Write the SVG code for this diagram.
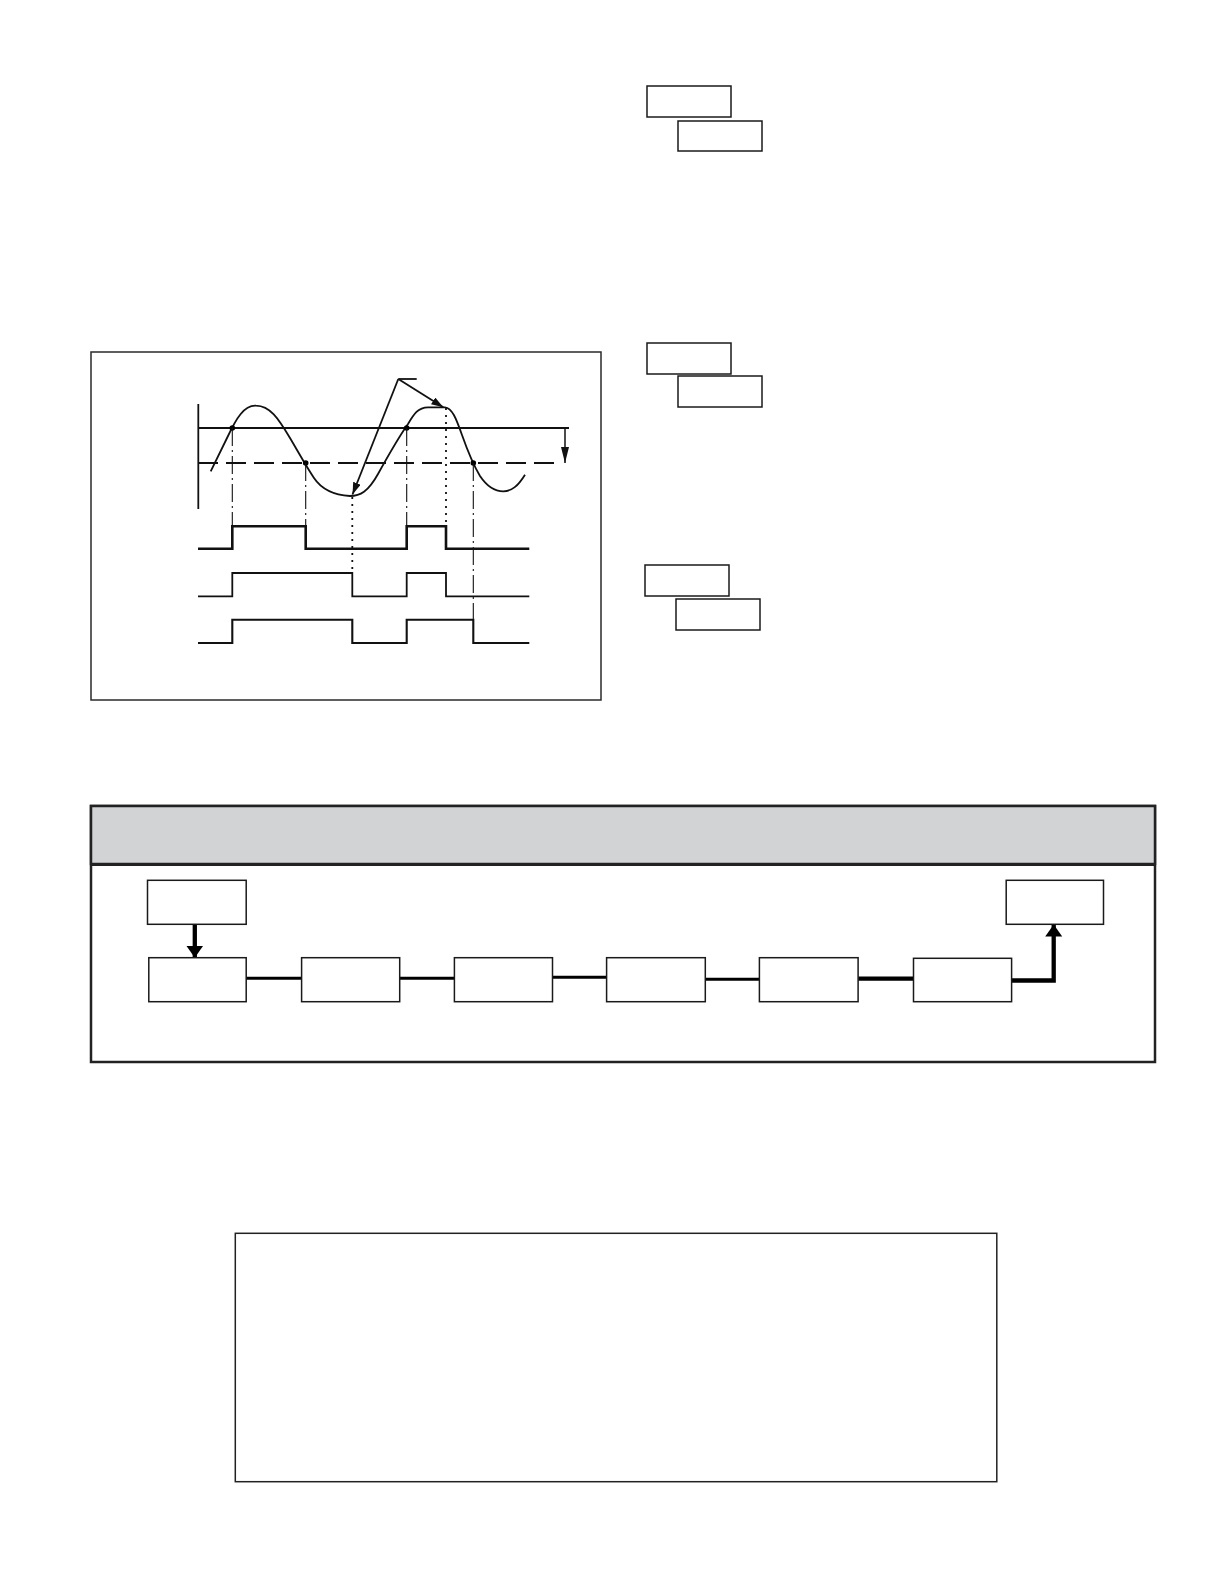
<svg xmlns="http://www.w3.org/2000/svg" width="1224" height="1584" viewBox="0 0 1224 1584">
<style>
.box{fill:#fff;stroke:#1a1a1a;stroke-width:1.5}
.frame{fill:none;stroke:#2a2a2a;stroke-width:1.5}
.ln{fill:none;stroke:#111;stroke-width:1.8}
.wave{fill:none;stroke:#111;stroke-width:1.8}
.dash{fill:none;stroke:#111;stroke-width:1.1;stroke-dasharray:18 4 2 4}
.dot{fill:none;stroke:#111;stroke-width:1.8;stroke-dasharray:2 5}
.conn{fill:none;stroke:#000;stroke-width:3}
.thick{fill:none;stroke:#000;stroke-width:4.3}
</style>
<defs>
<marker id="ah" markerUnits="userSpaceOnUse" markerWidth="14" markerHeight="10" refX="12" refY="4" orient="auto">
<path d="M0,0 L12,4 L0,8 Z" fill="#111"/>
</marker>
<marker id="ahl" markerUnits="userSpaceOnUse" markerWidth="18" markerHeight="10" refX="16" refY="4" orient="auto">
<path d="M0,0 L16,4 L0,8 Z" fill="#111"/>
</marker>
<marker id="ahb" markerUnits="userSpaceOnUse" markerWidth="14" markerHeight="18" refX="12" refY="8.5" orient="auto">
<path d="M0,0 L12,8.5 L0,17 Z" fill="#000"/>
</marker>
</defs>
<rect width="1224" height="1584" fill="#fff"/>

<g id="pairA1"><rect class="box" x="647" y="86" width="84" height="31"/></g>
<g id="pairA2"><rect class="box" x="678" y="121" width="84" height="30"/></g>
<g id="pairB1"><rect class="box" x="647" y="343" width="84" height="31"/></g>
<g id="pairB2"><rect class="box" x="678" y="376" width="84" height="31"/></g>
<g id="pairC1"><rect class="box" x="645" y="565" width="84" height="31"/></g>
<g id="pairC2"><rect class="box" x="676" y="599" width="84" height="31"/></g>

<g id="timing">
<rect class="frame" x="91" y="352" width="510" height="348"/>
<line class="ln" x1="198.3" y1="404" x2="198.3" y2="509"/>
<line x1="198" y1="428" x2="569" y2="428" stroke="#111" stroke-width="2.2"/>
<line x1="198" y1="463" x2="560" y2="463" stroke="#111" stroke-width="2.2" stroke-dasharray="20 8"/>
<line x1="565" y1="428" x2="565" y2="463" stroke="#111" stroke-width="1.5" marker-end="url(#ahl)"/>
<path class="wave" d="M210.7 471.3 L228 436 C236 419 244 405 256 405.7 C270 406 278 418 290 438 C300 455 306 466 314 478 C322 490 334 495 350 496 C360 496 368 492 378 474 C388 456 398 438 408 424 C414 414 418 407.5 428 407.3 L445 407.3 C452 408 456 418 462 435 C468 452 474 466 480 476 C488 488 496 491.3 503.3 491.3 C512 491 518 486 525 474.7"/>
<circle cx="232.3" cy="428" r="2.8" fill="#000"/>
<circle cx="305.7" cy="463" r="2.8" fill="#000"/>
<circle cx="406.7" cy="428" r="2.8" fill="#000"/>
<circle cx="473.3" cy="463" r="2.8" fill="#000"/>
<line class="ln" x1="416.7" y1="379" x2="398.3" y2="379"/>
<line class="ln" x1="398.3" y1="379" x2="352.5" y2="494.5" marker-end="url(#ah)"/>
<line class="ln" x1="398.3" y1="379" x2="443.3" y2="407.3" marker-end="url(#ah)"/>
<line class="dash" x1="232.3" y1="428" x2="232.3" y2="526"/>
<line class="dash" x1="305.7" y1="463" x2="305.7" y2="548"/>
<line class="dot" x1="352.3" y1="497" x2="352.3" y2="573"/>
<line class="dash" x1="406.7" y1="428" x2="406.7" y2="526"/>
<line class="dot" x1="446" y1="408" x2="446" y2="526"/>
<line class="dash" x1="473.3" y1="463" x2="473.3" y2="620"/>
<polyline fill="none" stroke="#111" stroke-width="2.6" points="198,548.7 232.3,548.7 232.3,526.3 305.7,526.3 305.7,548.7 406.7,548.7 406.7,526.3 446,526.3 446,548.7 529.3,548.7"/>
<polyline fill="none" stroke="#111" stroke-width="1.8" points="198,596.3 232.3,596.3 232.3,573 352.3,573 352.3,596.3 406.7,596.3 406.7,573 446,573 446,596.3 529.3,596.3"/>
<polyline fill="none" stroke="#111" stroke-width="2.1" points="198,643 232.3,643 232.3,619.7 352.3,619.7 352.3,643 406.7,643 406.7,619.7 473.3,619.7 473.3,643 529.3,643"/>
</g>

<g id="panel">
<rect x="91" y="806" width="1064" height="256" fill="#fff" stroke="#222" stroke-width="2.5"/>
<rect x="91" y="806" width="1064" height="58" fill="#d2d3d5" stroke="#222" stroke-width="2.5"/>
<line x1="91" y1="864.5" x2="1155" y2="864.5" stroke="#222" stroke-width="3"/>
</g>
<g id="connectors">
<line class="thick" x1="194.8" y1="924" x2="194.8" y2="957.7" marker-end="url(#ahb)"/>
<line class="conn" x1="246" y1="978.3" x2="302" y2="978.3"/>
<line class="conn" x1="399.7" y1="978.3" x2="454.4" y2="978.3"/>
<line class="conn" x1="552.5" y1="977.3" x2="606.6" y2="977.3"/>
<line class="conn" x1="705.3" y1="979.3" x2="759.4" y2="979.3"/>
<line class="thick" x1="858.1" y1="978.7" x2="913.5" y2="978.7"/>
<polyline class="thick" points="1011.6,980.5 1053.7,980.5 1053.7,924.5" marker-end="url(#ahb)"/>
</g>
<g id="start"><rect class="box" x="147.5" y="880.3" width="98.7" height="44"/></g>
<g id="end"><rect class="box" x="1006.2" y="880.3" width="97.3" height="44"/></g>
<g id="step1"><rect class="box" x="148.8" y="957.7" width="97.4" height="44"/></g>
<g id="step2"><rect class="box" x="301.6" y="957.7" width="98.1" height="44"/></g>
<g id="step3"><rect class="box" x="454.4" y="957.7" width="98.1" height="44"/></g>
<g id="step4"><rect class="box" x="606.6" y="957.7" width="98.7" height="44"/></g>
<g id="step5"><rect class="box" x="759.4" y="957.7" width="98.7" height="44"/></g>
<g id="step6"><rect class="box" x="913.5" y="958.3" width="98.1" height="43.4"/></g>

<g id="bottomFrame"><rect x="235.3" y="1233.3" width="761.5" height="248.4" fill="none" stroke="#222" stroke-width="1.5"/></g>
</svg>
